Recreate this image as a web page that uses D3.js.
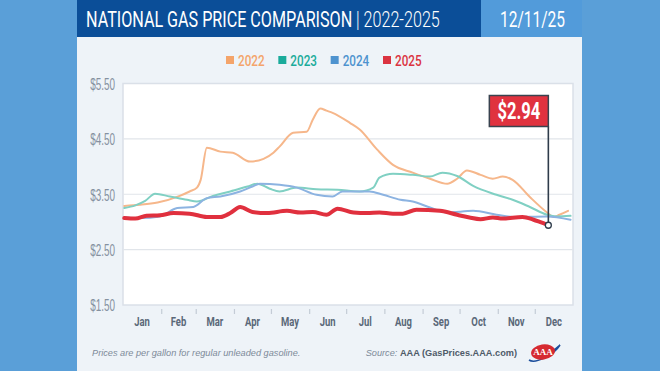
<!DOCTYPE html>
<html>
<head>
<meta charset="utf-8">
<script src="https://cdn.jsdelivr.net/npm/d3@7"></script>
<style>
  html, body { margin: 0; padding: 0; background: #5a9fd8; }
  svg { display: block; font-family: Roboto, "Noto Sans", sans-serif; }
</style>
</head>
<body>
<div id="chart"></div>
<script>
// ---------------------------------------------------------------
//  data: [day of year, price]
// ---------------------------------------------------------------
const years = ["2022", "2023", "2024", "2025"]
const months = ["Jan", "Feb", "Mar", "Apr", "May", "Jun", "Jul", "Aug", "Sep", "Oct", "Nov", "Dec"]
const monthStarts = [0, 31, 59, 90, 120, 151, 181, 212, 243, 273, 304, 334, 365]
const yTicks = [1.5, 2.5, 3.5, 4.5, 5.5]

const prices2022 = [
  [1, 3.29], [14, 3.31], [28, 3.35], [46, 3.47], [54, 3.55], [60, 3.62], [63, 3.76], [68, 4.34],
  [79, 4.27], [89, 4.25], [103, 4.09], [114, 4.14], [122, 4.25], [127, 4.36], [138, 4.61],
  [149, 4.63], [154, 4.85], [160, 5.05], [165, 5.01], [170, 4.97], [184, 4.79], [192, 4.67],
  [206, 4.31], [219, 4.03], [235, 3.89], [249, 3.78], [263, 3.69], [271, 3.78], [279, 3.93],
  [290, 3.85], [300, 3.78], [308, 3.82], [316, 3.76], [330, 3.45], [344, 3.17], [349, 3.09],
  [354, 3.13], [361, 3.20]
]
const prices2023 = [
  [1, 3.25], [10, 3.30], [18, 3.38], [26, 3.51], [38, 3.46], [52, 3.40], [60, 3.37], [73, 3.47],
  [87, 3.55], [101, 3.64], [109, 3.69], [119, 3.60], [127, 3.55], [141, 3.62], [157, 3.59],
  [174, 3.58], [192, 3.55], [203, 3.62], [208, 3.80], [219, 3.87], [235, 3.85], [249, 3.82],
  [259, 3.89], [271, 3.83], [284, 3.65], [303, 3.49], [316, 3.40], [330, 3.27], [344, 3.13],
  [352, 3.10], [363, 3.11]
]
const prices2024 = [
  [1, 3.08], [14, 3.07], [30, 3.10], [44, 3.25], [57, 3.27], [68, 3.43], [79, 3.46], [95, 3.55],
  [105, 3.64], [111, 3.69], [127, 3.67], [141, 3.62], [157, 3.49], [170, 3.46], [178, 3.55],
  [200, 3.55], [211, 3.49], [225, 3.40], [235, 3.37], [249, 3.26], [263, 3.17], [284, 3.20],
  [303, 3.13], [316, 3.09], [344, 3.10], [363, 3.04]
]
const prices2025 = [
  [1, 3.07], [10, 3.06], [19, 3.11], [30, 3.12], [41, 3.16], [54, 3.15], [68, 3.09], [79, 3.09],
  [87, 3.16], [95, 3.27], [105, 3.18], [117, 3.16], [133, 3.20], [144, 3.17], [154, 3.18],
  [165, 3.13], [174, 3.24], [187, 3.17], [198, 3.16], [208, 3.17], [219, 3.15], [227, 3.15],
  [238, 3.22], [257, 3.20], [271, 3.13], [281, 3.08], [290, 3.05], [300, 3.08], [308, 3.06],
  [324, 3.09], [333, 3.04], [338, 3.00], [345, 2.94]
]
const seriesData = [prices2022, prices2023, prices2024, prices2025]
const latest = prices2025[prices2025.length - 1]

// ---------------------------------------------------------------
//  sizes / styles
// ---------------------------------------------------------------
const WIDTH = 660, HEIGHT = 371
const CARD_X = 77, CARD_W = 505, BAR_H = 37, DATE_X = 481
const PLOT = { left: 123, right: 573, top: 83.5, bottom: 305 }

const legendColor = ["#f4a46a", "#1aab9b", "#4e93cf", "#db3341"]
const lineColor = ["#f6b78b", "#80d0c3", "#8cb3e1", "#e0303e"]
const lineWidth = [2, 2, 2, 4]

// squeeze text to look like the condensed face in the picture
function condense(sel, factor) {
  sel.each(function () {
    const w = this.getComputedTextLength()
    d3.select(this).attr("textLength", w * factor).attr("lengthAdjust", "spacingAndGlyphs")
  })
}

const svg = d3.select("#chart").append("svg")
  .attr("width", WIDTH).attr("height", HEIGHT)

// background pieces
svg.append("rect").attr("width", WIDTH).attr("height", HEIGHT).attr("fill", "#5a9fd8")
svg.append("rect").attr("x", CARD_X).attr("y", BAR_H).attr("width", CARD_W).attr("height", HEIGHT - BAR_H).attr("fill", "#eef3f8")
svg.append("rect").attr("x", CARD_X).attr("y", 0).attr("width", DATE_X - CARD_X).attr("height", BAR_H).attr("fill", "#0b4e98")
svg.append("rect").attr("x", DATE_X).attr("y", 0).attr("width", CARD_X + CARD_W - DATE_X).attr("height", BAR_H).attr("fill", "#529bda")

// title, one text squeezed with a scale so its pieces never collide
const titleG = svg.append("g")
const title = titleG.append("text").attr("x", 0).attr("y", 0).attr("fill", "#fff")
  .style("font-size", "22px")
title.append("tspan").style("font-weight", 400).text("NATIONAL GAS PRICE COMPARISON")
title.append("tspan").style("font-weight", 300).text(" | 2022-2025")
const titleW = title.node().getComputedTextLength()
titleG.attr("transform", `translate(86,27) scale(${354 / titleW},1)`)

const dateG = svg.append("g")
const dateT = dateG.append("text").attr("fill", "#fff")
  .style("font-size", "22px").style("font-weight", 400)
  .text("12/11/25")
dateG.attr("transform", `translate(500,27) scale(${65 / dateT.node().getComputedTextLength()},1)`)

// legend
const legendX = d3.scalePoint().domain(years).range([230, 387])
const legend = svg.append("g").selectAll("g").data(years).join("g")
  .attr("transform", d => `translate(${legendX(d)},60)`)
legend.append("rect").attr("x", -4).attr("y", -4).attr("width", 8).attr("height", 8)
  .attr("fill", (d, i) => legendColor[i])
legend.append("text").attr("x", 8).attr("y", 5.5)
  .attr("fill", (d, i) => legendColor[i])
  .style("font-size", "15px").style("font-weight", 500)
  .text(d => d)
  .call(condense, 0.78)

// scales
const x = d3.scaleLinear().domain([0, 365]).range([PLOT.left, PLOT.right])
const y = d3.scaleLinear().domain([1.5, 5.5]).range([PLOT.bottom, PLOT.top])

// plot area
svg.append("rect")
  .attr("x", PLOT.left).attr("y", PLOT.top)
  .attr("width", PLOT.right - PLOT.left).attr("height", PLOT.bottom - PLOT.top)
  .attr("fill", "#fff").attr("stroke", "#dae0e8").attr("stroke-width", 1.5)

svg.append("g").selectAll("line").data(yTicks.slice(1, -1)).join("line")
  .attr("x1", PLOT.left).attr("x2", PLOT.right)
  .attr("y1", d => y(d)).attr("y2", d => y(d))
  .attr("stroke", "#e1e5ea").attr("stroke-width", 1.2)

// y axis labels
const yAxis = svg.append("g")
  .attr("transform", `translate(${PLOT.left - 8},0)`)
  .call(d3.axisLeft(y).tickValues(yTicks).tickFormat(d3.format("$.2f")).tickSize(0).tickPadding(0))
yAxis.select(".domain").remove()
yAxis.selectAll("text")
  .attr("fill", "#8591a0").attr("dy", "0.36em")
  .style("font-size", "16px").style("font-weight", 300)
  .call(condense, 0.62)

// x axis: ticks on month boundaries, labels centred in months
const xAxis = svg.append("g")
  .attr("transform", `translate(0,${PLOT.bottom + 4})`)
  .call(d3.axisBottom(x).tickValues(monthStarts.slice(1, -1)).tickFormat("").tickSize(5))
xAxis.select(".domain").remove()
xAxis.selectAll("line").attr("stroke", "#c4ccd6").attr("stroke-width", 1.2)

svg.append("g").selectAll("text").data(months).join("text")
  .attr("x", (d, i) => x((monthStarts[i] + monthStarts[i + 1]) / 2))
  .attr("y", 325.5)
  .attr("text-anchor", "middle")
  .attr("fill", "#5a6878")
  .style("font-size", "13.5px").style("font-weight", 700)
  .text(d => d)
  .call(condense, 0.7)

// lines
const line = d3.line()
  .x(d => x(d[0]))
  .y(d => y(d[1]))
  .curve(d3.curveMonotoneX)

svg.append("g").selectAll("path").data(seriesData).join("path")
  .attr("d", line)
  .attr("fill", "none")
  .attr("stroke", (d, i) => lineColor[i])
  .attr("stroke-width", (d, i) => lineWidth[i])
  .attr("stroke-linejoin", "round")
  .attr("stroke-linecap", "round")

// callout for the latest price
const px = x(latest[0]), py = y(latest[1])
const BOX_W = 59, BOX_TOP = 95.5, BOX_H = 31
svg.append("line")
  .attr("x1", px).attr("x2", px).attr("y1", BOX_TOP + BOX_H).attr("y2", py)
  .attr("stroke", "#2f3c4b").attr("stroke-width", 1.6)
svg.append("rect")
  .attr("x", px - BOX_W).attr("y", BOX_TOP).attr("width", BOX_W).attr("height", BOX_H)
  .attr("fill", "#e0323f").attr("stroke", "#39434f").attr("stroke-width", 1.5)
svg.append("text")
  .attr("x", px - BOX_W / 2).attr("y", BOX_TOP + 23)
  .attr("text-anchor", "middle").attr("fill", "#fff")
  .style("font-size", "23px").style("font-weight", 700)
  .text(d3.format("$.2f")(latest[1]))
  .call(condense, 0.72)
svg.append("circle").attr("cx", px).attr("cy", py).attr("r", 3)
  .attr("fill", "#fff").attr("stroke", "#2f3c4b").attr("stroke-width", 1.3)

// footer
svg.append("text").attr("x", 92).attr("y", 355.5)
  .attr("fill", "#7d8a98").style("font-size", "9.2px").style("font-style", "italic")
  .style("font-family", "'Liberation Sans', Arial, sans-serif")
  .text("Prices are per gallon for regular unleaded gasoline.")
const src = svg.append("text").attr("x", 517).attr("y", 355.5).attr("text-anchor", "end")
  .style("font-size", "9.2px").style("font-family", "'Liberation Sans', Arial, sans-serif")
src.append("tspan").attr("fill", "#7d8a98").style("font-style", "italic").text("Source: ")
src.append("tspan").attr("fill", "#4f5b69").style("font-weight", 700).text("AAA (GasPrices.AAA.com)")

// AAA logo (rough)
const logo = svg.append("g").attr("transform", "translate(543,352)")
logo.append("path")
  .attr("d", "M-14,8 C-8,12 10,4 17,-7 C12,-2 4,2 -4,4")
  .attr("fill", "none").attr("stroke", "#1d4f9c").attr("stroke-width", 1.6)
logo.append("ellipse").attr("rx", 12).attr("ry", 7.5).attr("fill", "#d62a31")
  .attr("transform", "rotate(-8)")
logo.append("text").attr("y", 3).attr("text-anchor", "middle")
  .attr("fill", "#fff").style("font-size", "9px").style("font-weight", 900)
  .style("font-family", "'Liberation Serif', serif")
  .text("AAA")
</script>
</body>
</html>
